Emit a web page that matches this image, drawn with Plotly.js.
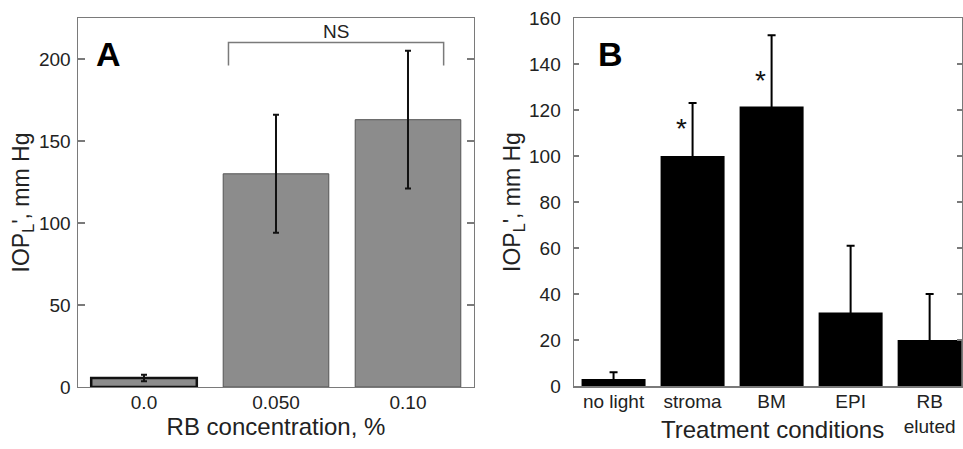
<!DOCTYPE html>
<html>
<head>
<meta charset="utf-8">
<script src="https://cdn.plot.ly/plotly-3.0.1.min.js"></script>
<style>html,body{margin:0;padding:0;background:#fff;}#chart{width:963px;height:449px;}</style>
</head>
<body>
<div id="chart"></div>
<script>
// Panel A data
const concCategories = ['0.0', '0.050', '0.10'];
const concIOP = [5.5, 130, 163];
const concErr = [2, 36, 42];
// Panel B data
const treatCategories = ['no light', 'stroma', 'BM', 'EPI', 'RB<br>eluted'];
const treatIOP = [3, 100, 121.5, 32, 20];
const treatErr = [3, 23, 31, 29, 20];
// significance markers
const starCategories = ['stroma', 'BM'];
const starY = [112, 133];
// NS bracket (panel A)
const nsBracket = {x0: 0.64, x1: 2.27, yLow: 196, yHigh: 210, textY: 217};

const FONT = 'Arial, "Liberation Sans", sans-serif';
const TXT = '#222';

const traceA = {
  type: 'bar', x: concCategories, y: concIOP, xaxis: 'x', yaxis: 'y',
  width: 0.8,
  marker: {color: '#8c8c8c', line: {color: ['#111', '#555', '#555'], width: [2.5, 1, 1]}},
  error_y: {type: 'data', array: concErr, visible: true, color: '#111', thickness: 2, width: 3},
  hoverinfo: 'x+y'
};
const traceB = {
  type: 'bar', x: treatCategories, y: treatIOP, xaxis: 'x2', yaxis: 'y2',
  width: 0.81,
  marker: {color: '#000', line: {width: 0}},
  error_y: {type: 'data', array: treatErr, visible: true, color: '#000', thickness: 2, width: 4},
  hoverinfo: 'x+y'
};

const ytitle = 'IOP<sub>L</sub>\', mm Hg';

const layout = {
  width: 963, height: 449,
  margin: {l: 0, r: 0, t: 0, b: 0},
  paper_bgcolor: '#fff', plot_bgcolor: '#fff',
  showlegend: false,
  font: {family: FONT, color: TXT, size: 19},
  bargap: 0.2,
  xaxis: {
    domain: [0.0810, 0.4922], anchor: 'y', type: 'category',
    range: [-0.5, 2.5],
    showline: true, linecolor: '#7a7a7a', linewidth: 1.5, mirror: true,
    ticks: '', showgrid: false, zeroline: false,
    tickfont: {size: 19, color: TXT, family: FONT},
    ticklabelstandoff: -2,
    title: {text: 'RB concentration, %', font: {size: 24, color: TXT, family: FONT}, standoff: 6}
  },
  yaxis: {
    domain: [0.1381, 0.9599], anchor: 'x',
    range: [0, 225],
    tickvals: [0, 50, 100, 150, 200],
    showline: true, linecolor: '#7a7a7a', linewidth: 1.5, mirror: 'ticks',
    ticks: 'inside', ticklen: 7, tickcolor: '#7a7a7a', tickwidth: 1.5,
    showgrid: false, zeroline: false,
    tickfont: {size: 19, color: TXT, family: FONT},
    ticklabelstandoff: 2,
    title: {text: ytitle, font: {size: 23, color: TXT, family: FONT}, standoff: 3}
  },
  xaxis2: {
    domain: [0.5961, 0.999], anchor: 'y2', type: 'category',
    range: [-0.5, 4.41],
    showline: true, linecolor: '#7a7a7a', linewidth: 1.5, mirror: true,
    ticks: '', showgrid: false, zeroline: false,
    tickfont: {size: 19, color: TXT, family: FONT},
    ticklabelstandoff: -2
  },
  yaxis2: {
    domain: [0.1403, 0.9599], anchor: 'x2',
    range: [0, 160],
    tickvals: [0, 20, 40, 60, 80, 100, 120, 140, 160],
    showline: true, linecolor: '#7a7a7a', linewidth: 1.5, mirror: 'ticks',
    ticks: 'inside', ticklen: 5, tickcolor: '#7a7a7a', tickwidth: 1.5,
    showgrid: false, zeroline: false,
    tickfont: {size: 19, color: TXT, family: FONT},
    ticklabelstandoff: 8,
    title: {text: ytitle, font: {size: 23, color: TXT, family: FONT}, standoff: 2}
  },
  shapes: [
    {type: 'path', xref: 'x', yref: 'y',
     path: `M ${nsBracket.x0} ${nsBracket.yLow} L ${nsBracket.x0} ${nsBracket.yHigh} L ${nsBracket.x1} ${nsBracket.yHigh} L ${nsBracket.x1} ${nsBracket.yLow}`,
     line: {color: '#7a7a7a', width: 1.5}}
  ],
  annotations: [
    {xref: 'x', yref: 'y', x: (nsBracket.x0 + nsBracket.x1) / 2, y: nsBracket.textY, text: 'NS',
     showarrow: false, font: {size: 19, color: TXT, family: FONT}},
    {xref: 'paper', yref: 'paper', x: 108 / 963, y: 1 - 54 / 449, xanchor: 'center', yanchor: 'middle',
     text: '<b>A</b>', showarrow: false, font: {size: 34, color: '#000', family: FONT}},
    {xref: 'paper', yref: 'paper', x: 610 / 963, y: 1 - 54 / 449, xanchor: 'center', yanchor: 'middle',
     text: '<b>B</b>', showarrow: false, font: {size: 34, color: '#000', family: FONT}},
    {xref: 'paper', yref: 'paper', x: 772 / 963, y: 1 - 429 / 449, xanchor: 'center', yanchor: 'middle',
     text: 'Treatment conditions', showarrow: false, font: {size: 24, color: TXT, family: FONT}}
  ].concat(starCategories.map((c, i) => ({
    xref: 'x2', yref: 'y2', x: c, y: starY[i], text: '*', xshift: -11,
    showarrow: false, font: {size: 28, color: '#111', family: FONT}
  })))
};

Plotly.newPlot('chart', [traceA, traceB], layout, {staticPlot: true, displayModeBar: false});
</script>
</body>
</html>
